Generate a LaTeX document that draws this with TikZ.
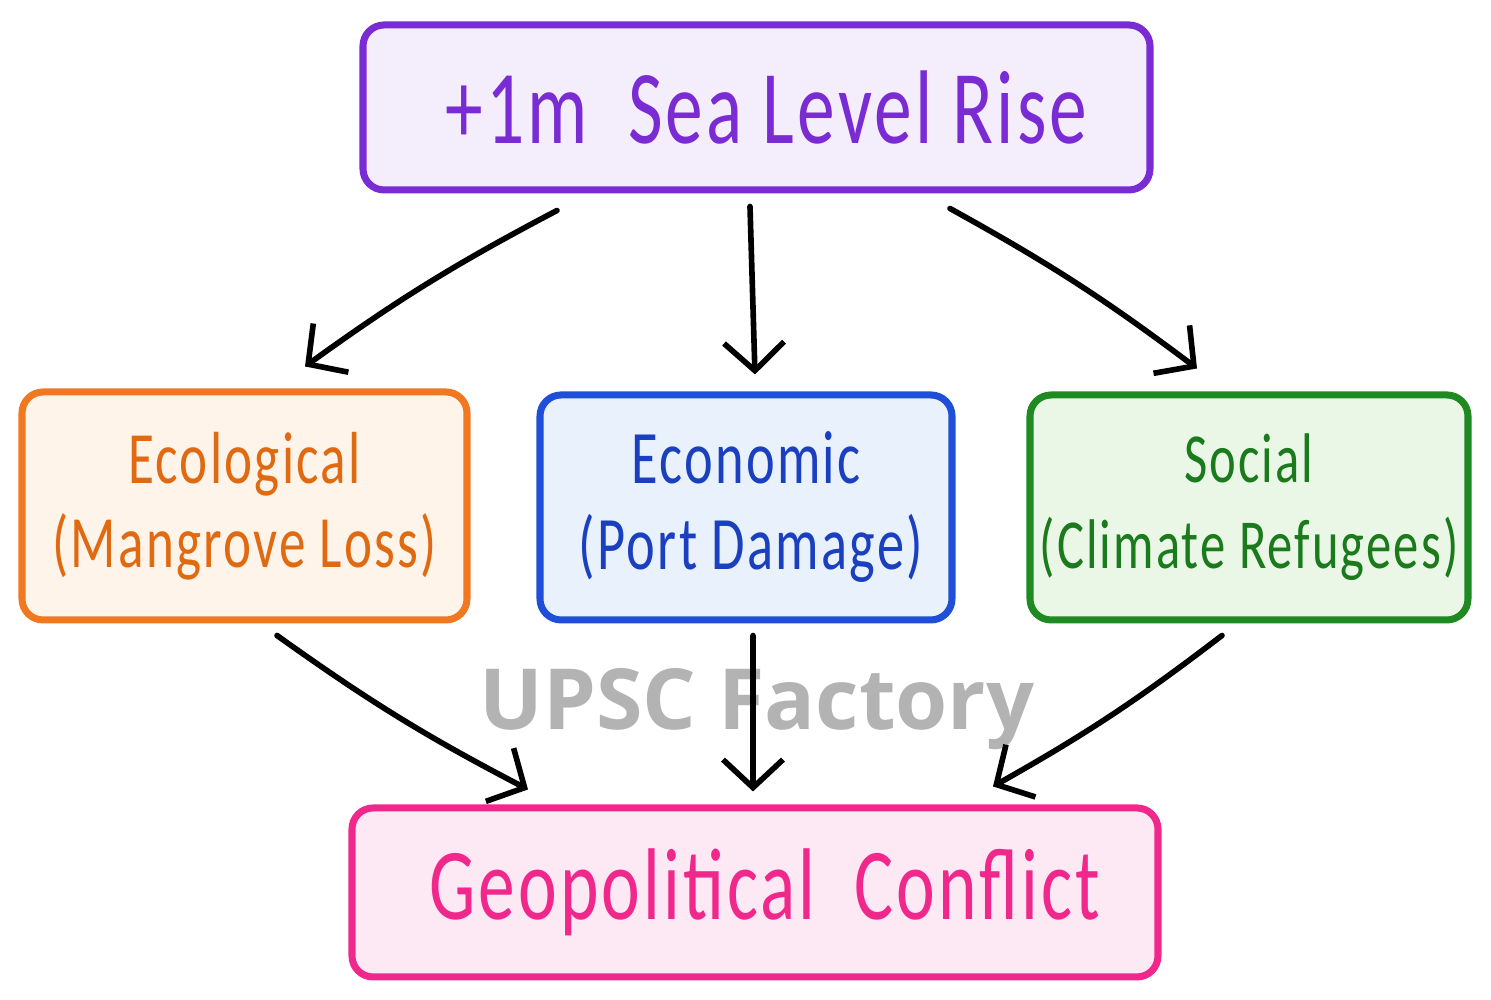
\documentclass[tikz,border=0pt]{standalone}
\usepackage{fontspec}
\usepackage{tikz}
\usetikzlibrary{arrows.meta}
\newfontfamily\handfont[FakeStretch=0.72, LetterSpace=3]{Carlito}
\newfontfamily\markfont{Open Sans}
\definecolor{riseline}{HTML}{7A2BD3}
\definecolor{risefill}{HTML}{F4EEFC}
\definecolor{ecoline}{HTML}{F07820}
\definecolor{ecofill}{HTML}{FEF4EA}
\definecolor{ecotext}{HTML}{E06A12}
\definecolor{econline}{HTML}{1F4FD8}
\definecolor{econfill}{HTML}{E9F1FD}
\definecolor{econtext}{HTML}{1A40C0}
\definecolor{socline}{HTML}{1F8A22}
\definecolor{socfill}{HTML}{EAF7E6}
\definecolor{soctext}{HTML}{1A7A1C}
\definecolor{geoline}{HTML}{F0288C}
\definecolor{geofill}{HTML}{FDE9F4}
\definecolor{marktext}{HTML}{B3B3B3}

\begin{document}
\begin{tikzpicture}[
	box/.style={draw, rounded corners=6pt, line width=2pt, inner sep=0pt, align=center},
	arr/.style={-{Straight Barb[length=2.8mm, width=6mm]}, line width=1.6pt, line cap=round, line join=round}
]
	\useasboundingbox (0,0) rectangle (14.91,10);
	% boxes
	\node [box, draw=riseline, fill=risefill, text=riseline, minimum width=7.87cm, minimum height=1.65cm,
		font=\handfont\fontsize{29.8}{34}\selectfont] (rise) at (7.565,8.925) {\hspace{0.2cm}+1m\ \ Sea\ Level\ Rise};
	\node [box, draw=ecoline, fill=ecofill, text=ecotext, minimum width=4.45cm, minimum height=2.28cm,
		font=\handfont\fontsize{21}{25.6}\selectfont] (eco) at (2.445,4.94) {\raisebox{-0.06cm}{Ecological}\\(Mangrove Loss)};
	\node [box, draw=econline, fill=econfill, text=econtext, minimum width=4.12cm, minimum height=2.25cm,
		font=\handfont\fontsize{21.5}{25.6}\selectfont] (econ) at (7.46,4.925) {\raisebox{-0.04cm}{Economic}\\\hspace{0.1cm}(Port Damage)};
	\node [box, draw=socline, fill=socfill, text=soctext, minimum width=4.38cm, minimum height=2.25cm,
		font=\handfont\fontsize{20}{25.6}\selectfont] (soc) at (12.49,4.925) {\raisebox{-0.04cm}{Social}\\(Climate Refugees)};
	\node [box, draw=geoline, fill=geofill, text=geoline, minimum width=8.06cm, minimum height=1.69cm,
		font=\handfont\fontsize{29}{34}\selectfont] (geo) at (7.55,1.075) {\hspace{0.2cm}Geopolitical\ \ Conflict};
	% watermark
	\node [anchor=base, text=marktext, font=\markfont\bfseries\fontsize{24}{26}\selectfont] (mark) at (7.57,2.70) {UPSC Factory};
	% arrows
	\draw [arr] ([xshift=-1.995cm, yshift=-0.17cm]rise.south) to[bend right=4] ([xshift=0.605cm, yshift=0.22cm]eco.north);
	\draw [arr] ([xshift=-0.065cm, yshift=-0.13cm]rise.south) -- ([xshift=0.09cm, yshift=0.17cm]econ.north);
	\draw [arr] ([xshift=1.935cm, yshift=-0.15cm]rise.south) to[bend left=4] ([xshift=-0.52cm, yshift=0.23cm]soc.north);
	\draw [arr] ([xshift=0.325cm, yshift=-0.12cm]eco.south) to[bend right=4] ([xshift=-2.27cm, yshift=0.15cm]geo.north);
	\draw [arr] ([xshift=0.07cm, yshift=-0.12cm]econ.south) -- ([xshift=-0.02cm, yshift=0.13cm]geo.north);
	\draw [arr] ([xshift=-0.27cm, yshift=-0.12cm]soc.south) to[bend left=4] ([xshift=2.38cm, yshift=0.18cm]geo.north);
\end{tikzpicture}
\end{document}
